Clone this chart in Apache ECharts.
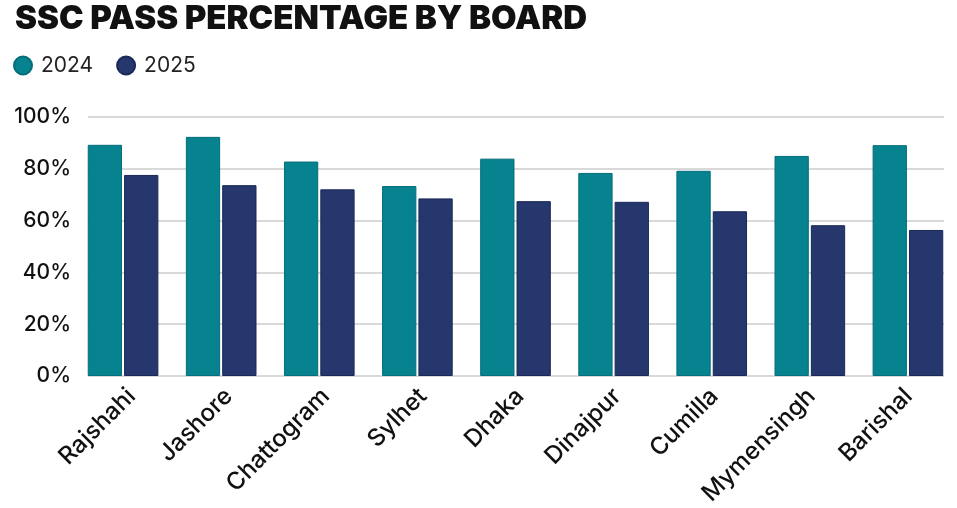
<!DOCTYPE html>
<html>
<head>
<meta charset="utf-8">
<script src="https://cdn.jsdelivr.net/npm/echarts@6/dist/echarts.min.js"></script>
<style>
html,body{margin:0;padding:0;background:#fff;}
#c{width:957px;height:508px;}
</style>
</head>
<body>
<div id="c"></div>
<script>
const categories = ['Rajshahi','Jashore','Chattogram','Sylhet','Dhaka','Dinajpur','Cumilla','Mymensingh','Barishal'];
const values2024 = [89.26, 92.33, 82.80, 73.35, 83.92, 78.40, 79.23, 84.97, 89.13];
const values2025 = [77.63, 73.69, 72.07, 68.57, 67.51, 67.25, 63.60, 58.22, 56.38];
const yTicks = [0, 20, 40, 60, 80, 100];

const FONT = 'Inter';
const chart = echarts.init(document.getElementById('c'));
chart.setOption({
  backgroundColor: '#fff',
  animation: false,
  title: {
    text: 'SSC PASS PERCENTAGE BY BOARD',
    left: 10, top: -2,
    textStyle: { fontFamily: FONT, fontSize: 33, fontWeight: 900, color: '#111' }
  },
  legend: {
    left: 8, top: 50,
    icon: 'circle', itemWidth: 18, itemHeight: 18, itemGap: 23,
    textStyle: { fontFamily: FONT, fontSize: 21, color: '#222', padding: [0, 0, 0, 4] },
    data: ['2024', '2025']
  },
  grid: [
    { left: 74, right: 0, top: 117, bottom: 132, containLabel: false },
    { left: 88, right: 13, top: 117, bottom: 132, containLabel: false },
    { left: 83, right: -9, top: 117, bottom: 132, containLabel: false }
  ],
  xAxis: [
    {
      type: 'category', gridIndex: 0, data: categories,
      axisLine: { show: false }, axisTick: { show: false }, axisLabel: { show: false }
    },
    {
      type: 'value', gridIndex: 1, min: 0, max: 1, show: false
    },
    {
      type: 'category', gridIndex: 2, data: categories,
      axisLine: { show: false }, axisTick: { show: false },
      axisLabel: { rotate: 45, interval: 0, margin: 18, fontFamily: FONT, fontSize: 24, fontWeight: 500, color: '#111' }
    }
  ],
  yAxis: [
    { type: 'value', gridIndex: 0, min: 0, max: 100, interval: 20, show: false },
    {
      type: 'value', gridIndex: 1, min: yTicks[0], max: yTicks[yTicks.length-1], interval: 20,
      axisLine: { show: false }, axisTick: { show: false },
      splitLine: { show: true, lineStyle: { color: '#d9d9d9', width: 2 } },
      axisLabel: { margin: 17, fontFamily: FONT, fontSize: 21, fontWeight: 500, color: '#111', formatter: v => v + '%' }
    },
    { type: 'value', gridIndex: 2, min: 0, max: 100, show: false }
  ],
  series: [
    {
      name: '2024', type: 'bar', xAxisIndex: 0, yAxisIndex: 0, data: values2024,
      barCategoryGap: '28%', barGap: '6%',
      itemStyle: { color: '#07828f', borderColor: '#046e7a', borderWidth: 1 }, z: 3
    },
    {
      name: '2025', type: 'bar', xAxisIndex: 0, yAxisIndex: 0, data: values2025,
      itemStyle: { color: '#25376c', borderColor: '#1a2858', borderWidth: 1 }, z: 3
    }
  ]
});
</script>
</body>
</html>
